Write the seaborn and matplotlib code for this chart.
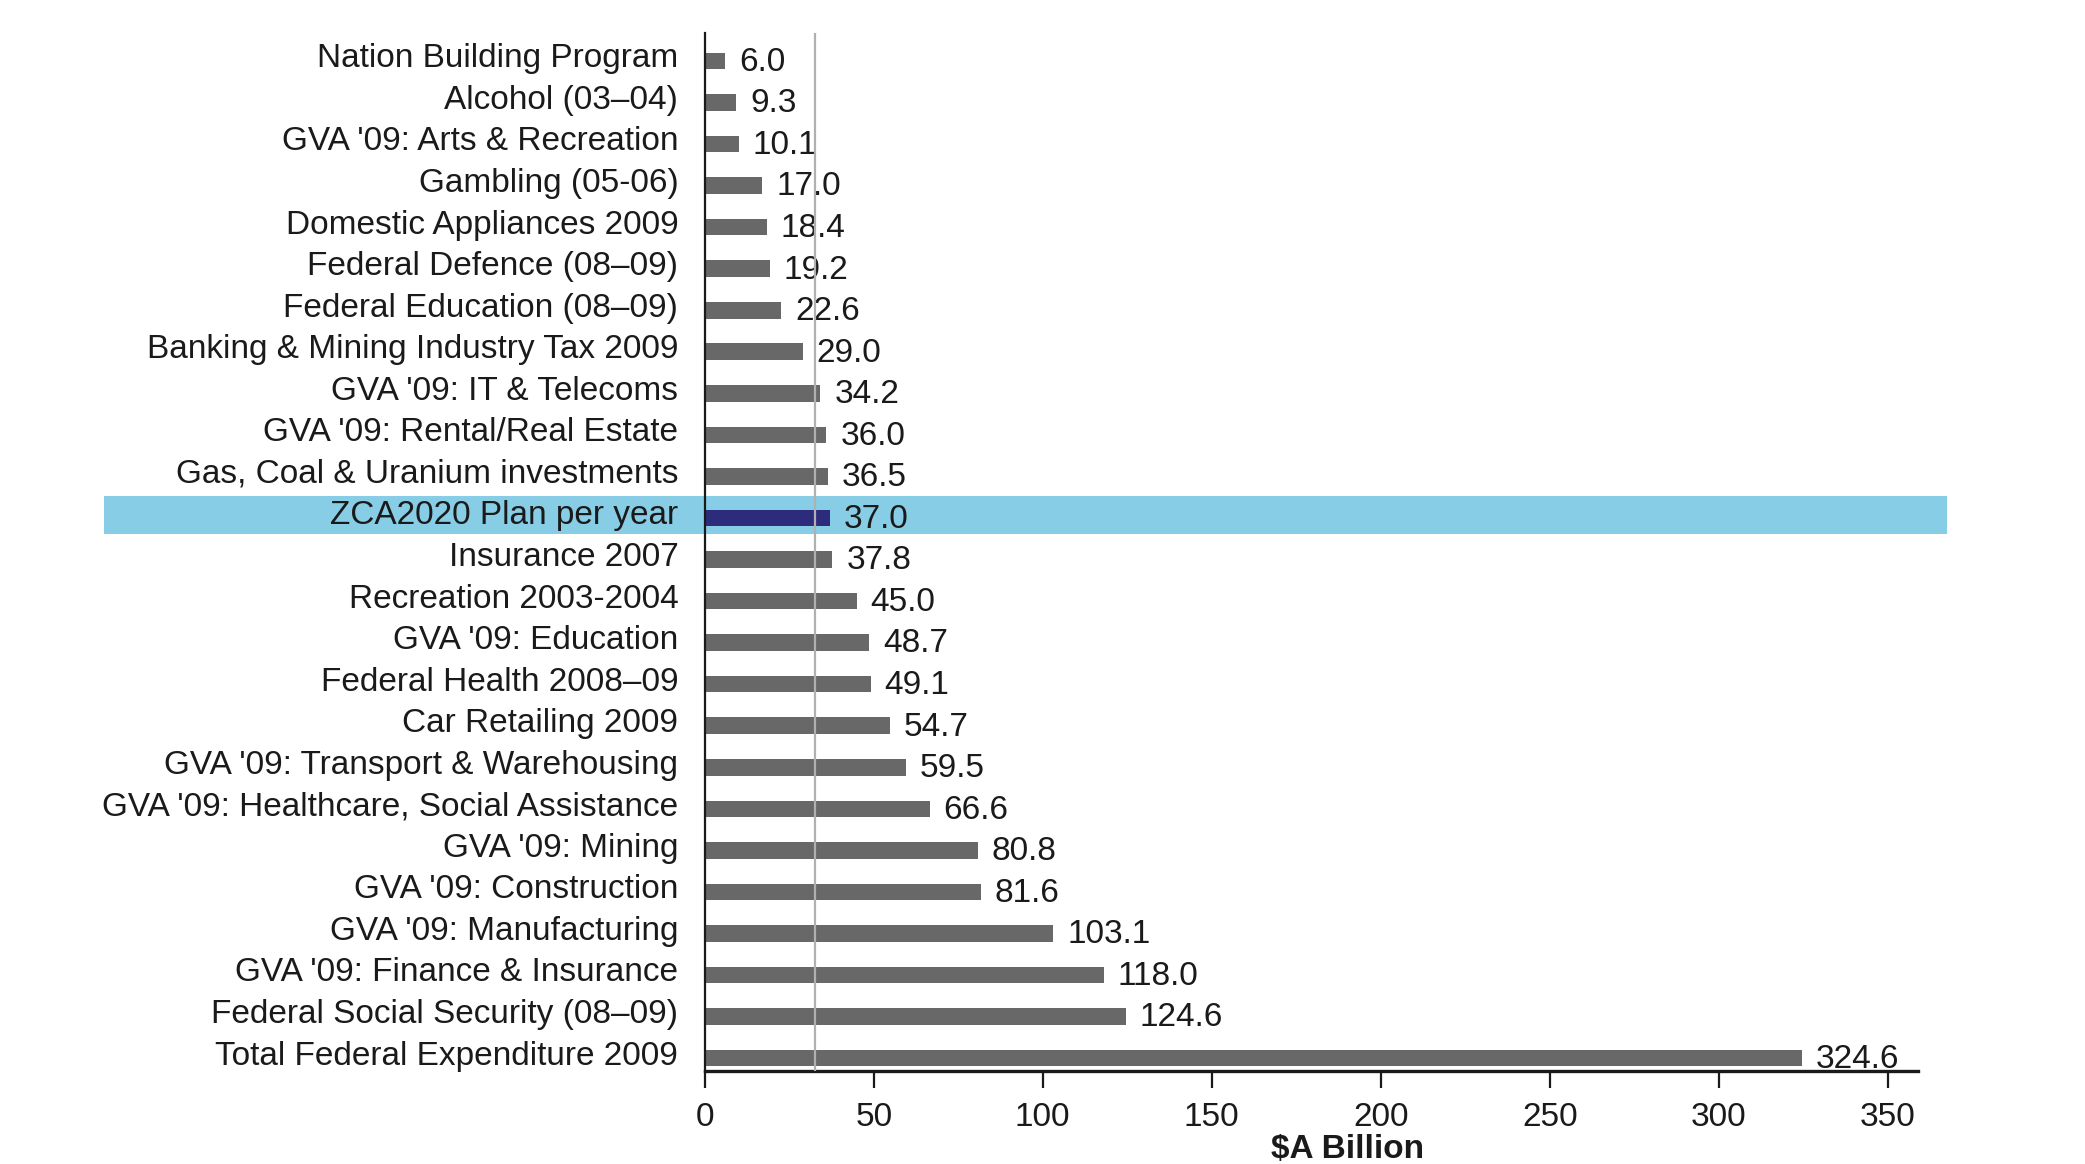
import numpy as np
import matplotlib
matplotlib.use("Agg")
import matplotlib.pyplot as plt
import matplotlib.transforms as mtransforms
from matplotlib.patches import Rectangle
import pandas as pd
import seaborn as sns

sns.set_theme(style="white")
plt.rcParams['font.family'] = ['Liberation Sans', 'DejaVu Sans']

#####################################################################
items = [
    "Nation Building Program",
    "Alcohol (03\u201304)",
    "GVA '09: Arts & Recreation",
    "Gambling (05-06)",
    "Domestic Appliances 2009",
    "Federal Defence (08\u201309)",
    "Federal Education (08\u201309)",
    "Banking & Mining Industry Tax 2009",
    "GVA '09: IT & Telecoms",
    "GVA '09: Rental/Real Estate",
    "Gas, Coal & Uranium investments",
    "ZCA2020 Plan per year",
    "Insurance 2007",
    "Recreation 2003-2004",
    "GVA '09: Education",
    "Federal Health 2008\u201309",
    "Car Retailing 2009",
    "GVA '09: Transport & Warehousing",
    "GVA '09: Healthcare, Social Assistance",
    "GVA '09: Mining",
    "GVA '09: Construction",
    "GVA '09: Manufacturing",
    "GVA '09: Finance & Insurance",
    "Federal Social Security (08\u201309)",
    "Total Federal Expenditure 2009",
]
values = [6.0, 9.3, 10.1, 17.0, 18.4, 19.2, 22.6, 29.0, 34.2, 36.0, 36.5,
          37.0, 37.8, 45.0, 48.7, 49.1, 54.7, 59.5, 66.6, 80.8, 81.6,
          103.1, 118.0, 124.6, 324.6]
highlight = "ZCA2020 Plan per year"
ref_line = 32.5
xticks = [0, 50, 100, 150, 200, 250, 300, 350]

df = pd.DataFrame({"item": items, "value": values})
df["group"] = np.where(df["item"] == highlight, "zca", "other")

#####################################################################
fig = plt.figure(figsize=(10.425, 5.82), dpi=200)
ax = fig.add_axes([0.338, 0.0799, 0.582, 0.8917])
ax.patch.set_visible(False)

sns.barplot(data=df, y="item", x="value", hue="group", orient="h",
            palette={"other": "#686868", "zca": "#2d2c7c"},
            dodge=False, width=0.4, legend=False, ax=ax, saturation=1,
            linewidth=0)

# value labels, a bit right of the bar end
for i, v in enumerate(values):
    ax.annotate("%.1f" % v, xy=(v, i), xytext=(5, -0.5),
                textcoords="offset points", va="center", ha="left",
                fontsize=12, color="#1a1a1a")

# highlight band behind the ZCA row, across labels
hi = items.index(highlight)
trans = mtransforms.blended_transform_factory(fig.transFigure, ax.transData)
ax.add_patch(Rectangle((0.05, hi - 0.52), 0.884, 0.9, transform=trans,
                       facecolor="#87cde6", edgecolor="none",
                       clip_on=False, zorder=0.1))

ax.axvline(ref_line, color="#b0b0b0", lw=0.8, zorder=3)

ax.set_xlim(0, 359)
ax.set_ylim(len(items) - 1 + 0.31, -0.67)
ax.set_xticks(xticks)
ax.set_ylabel("")
ax.set_xlabel("$A Billion", fontsize=12, fontweight="bold", color="#1a1a1a")
ax.xaxis.set_label_coords(0.53, -0.061)

ax.tick_params(axis="x", length=6, width=0.8, color="#1a1a1a", pad=5,
               labelsize=12, labelcolor="#1a1a1a", bottom=True)
ax.tick_params(axis="y", length=0, pad=9.5, labelsize=12, labelcolor="#1a1a1a")

# y labels sit a little above their bars
up = mtransforms.ScaledTranslation(0, 2 / 72, fig.dpi_scale_trans)
for lab in ax.get_yticklabels():
    lab.set_transform(lab.get_transform() + up)

for s in ["top", "right"]:
    ax.spines[s].set_visible(False)
ax.spines["left"].set_color("#1a1a1a")
ax.spines["left"].set_linewidth(0.8)
ax.spines["bottom"].set_color("#1a1a1a")
ax.spines["bottom"].set_linewidth(1.2)

fig.savefig("out.png", dpi=200, facecolor="white")
